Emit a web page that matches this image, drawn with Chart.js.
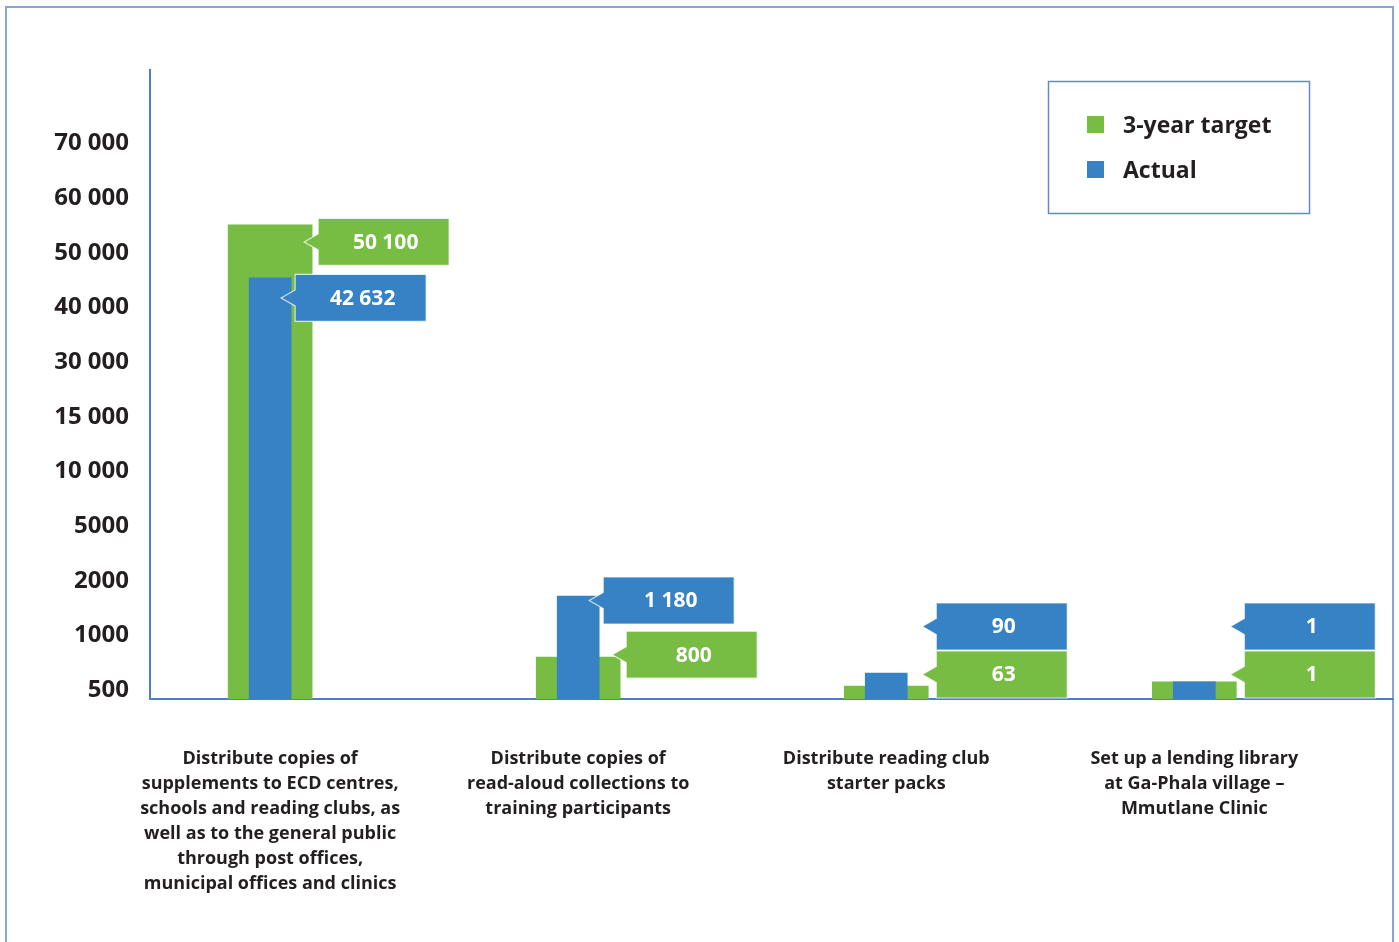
<!DOCTYPE html>
<html>
<head>
<meta charset="utf-8">
<script src="https://cdn.jsdelivr.net/npm/chart.js@4.4.1/dist/chart.umd.min.js"></script>
<style>
  html, body { margin: 0; padding: 0; background: #fff; }
</style>
</head>
<body>
<canvas id="chart" width="1399" height="942"></canvas>
<script>
'use strict';

// categories (one entry per group, split into lines as printed)
const categories = [
  ['Distribute copies of', 'supplements to ECD centres,', 'schools and reading clubs, as', 'well as to the general public', 'through post offices,', 'municipal offices and clinics'],
  ['Distribute copies of', 'read-aloud collections to', 'training participants'],
  ['Distribute reading club', 'starter packs'],
  ['Set up a lending library', 'at Ga-Phala village –', 'Mmutlane Clinic']
];

// y tick labels, evenly spaced (one step each) from the bottom up
const tickLabels = ['500', '1000', '2000', '5000', '10 000', '15 000', '30 000', '40 000', '50 000', '60 000', '70 000'];

// values printed in the callouts
const targetValues = [50100, 800, 63, 1];
const actualValues = [42632, 1180, 90, 1];

// bar heights as drawn, in tick steps (0 = "500" tick)
const targetHeights = [8.51, 0.60, 0.07, 0.15];
const actualHeights = [7.54, 1.72, 0.31, 0.15];

const GREEN = '#77bc43';
const BLUE  = '#3682c4';
const INK   = '#231f20';
const AXIS  = '#4d7ec8';
const FRAME = '#86a6da';
const FONT  = "'Open Sans', 'Noto Sans', sans-serif";

const Y_MIN = -0.165, Y_MAX = 11.345;
const BOX_W = 131, BOX_H = 47;

// how far (px) below each bar top its callout sits, before collision handling
const calloutNudge = [[17, 20], [-2.5, 4.5], [0, 0], [0, 0]];

const fmt = v => String(v).replace(/\B(?=(\d{3})+(?!\d))/g, ' ');

function callout(ctx, left, cy, color, text) {
  const top = cy - BOX_H / 2;
  ctx.beginPath();
  ctx.moveTo(left, top);
  ctx.lineTo(left + BOX_W, top);
  ctx.lineTo(left + BOX_W, top + BOX_H);
  ctx.lineTo(left, top + BOX_H);
  ctx.lineTo(left, cy + 8);
  ctx.lineTo(left - 14, cy);
  ctx.lineTo(left, cy - 8);
  ctx.closePath();
  ctx.fillStyle = color;
  ctx.fill();
  ctx.strokeStyle = 'rgba(255,255,255,.75)';
  ctx.lineWidth = 1.2;
  ctx.stroke();
  ctx.fillStyle = '#fff';
  ctx.font = `bold 21px ${FONT}`;
  ctx.textAlign = 'center';
  ctx.textBaseline = 'middle';
  ctx.fillText(text, left + BOX_W / 2 + 2, cy + 1);
}

const decor = {
  id: 'decor',
  beforeDraw(chart) {
    const ctx = chart.ctx;
    ctx.save();
    ctx.strokeStyle = FRAME;
    ctx.lineWidth = 2;
    ctx.strokeRect(6, 7, 1387, 1000);
    ctx.restore();
  },
  afterDatasetsDraw(chart) {
    const ctx = chart.ctx;
    const tMeta = chart.getDatasetMeta(0);
    const aMeta = chart.getDatasetMeta(1);
    const axisY = chart.chartArea.bottom;
    ctx.save();
    targetValues.forEach((v, i) => {
      const tb = tMeta.data[i], ab = aMeta.data[i];
      const gRight = tb.x + tb.width / 2;
      const boxes = [
        { cy: tb.y + calloutNudge[i][0], color: GREEN, text: fmt(targetValues[i]), left: gRight + 6 },
        { cy: ab.y + calloutNudge[i][1], color: BLUE,  text: fmt(actualValues[i]), left: ab.x + ab.width / 2 + 4 }
      ];
      const lo = boxes[0].cy >= boxes[1].cy ? boxes[0] : boxes[1];
      const hi = lo === boxes[0] ? boxes[1] : boxes[0];
      let stacked = false;
      if (lo.cy + BOX_H / 2 > axisY - 1) { lo.cy = axisY - 1 - BOX_H / 2; stacked = true; }
      if (hi.cy + BOX_H / 2 > lo.cy - BOX_H / 2 - 1) { hi.cy = lo.cy - BOX_H - 1; stacked = true; }
      if (stacked) boxes.forEach(b => { b.left = gRight + 8; });
      boxes.forEach(b => callout(ctx, b.left, b.cy, b.color, b.text));
    });
    ctx.restore();
  },
  afterDraw(chart) {
    const ctx = chart.ctx;
    ctx.save();
    ctx.strokeStyle = '#5f8bcd';
    ctx.lineWidth = 1.5;
    ctx.strokeRect(1048.5, 81.5, 261, 132);
    ctx.font = `bold 23px ${FONT}`;
    ctx.textAlign = 'left';
    ctx.textBaseline = 'middle';
    chart.data.datasets.forEach((ds, i) => {
      const y = 125 + i * 45;
      ctx.fillStyle = ds.backgroundColor;
      ctx.fillRect(1087, y - 9, 17, 17);
      ctx.fillStyle = INK;
      ctx.fillText(ds.label, 1123, y + 1);
    });
    ctx.restore();
  }
};

new Chart(document.getElementById('chart'), {
  type: 'bar',
  data: {
    datasets: [
      {
        label: '3-year target',
        data: targetHeights.map((h, i) => ({ x: i, y: [Y_MIN, h] })),
        backgroundColor: GREEN,
        barThickness: 84,
        grouped: false,
        order: 1
      },
      {
        label: 'Actual',
        data: actualHeights.map((h, i) => ({ x: i, y: [Y_MIN, h] })),
        backgroundColor: BLUE,
        barThickness: 42,
        grouped: false,
        order: 0
      }
    ]
  },
  options: {
    responsive: false,
    animation: false,
    layout: { padding: { top: 70, right: 6, left: 0, bottom: 0 } },
    plugins: { legend: { display: false }, tooltip: { enabled: false } },
    scales: {
      x: {
        type: 'linear',
        min: -0.39,
        max: 3.645,
        offset: false,
        grid: { display: false, drawTicks: false },
        border: { display: true, color: AXIS, width: 2 },
        afterBuildTicks: s => { s.ticks = categories.map((_, i) => ({ value: i })); },
        afterFit: s => { s.height = 942 - 699; },
        ticks: {
          autoSkip: false,
          maxRotation: 0,
          padding: 47,
          color: INK,
          font: { family: FONT, size: 18, weight: 'bold', lineHeight: '25px' },
          callback: v => categories[v]
        }
      },
      y: {
        type: 'linear',
        min: Y_MIN,
        max: Y_MAX,
        grid: { display: false, drawTicks: false },
        border: { display: true, color: AXIS, width: 2 },
        afterBuildTicks: s => { s.ticks = tickLabels.map((_, i) => ({ value: i })); },
        afterFit: s => { s.width = 150; },
        ticks: {
          padding: 21,
          color: INK,
          font: { family: FONT, size: 24, weight: 'bold' },
          callback: v => tickLabels[v]
        }
      }
    }
  },
  plugins: [decor]
});
</script>
</body>
</html>
